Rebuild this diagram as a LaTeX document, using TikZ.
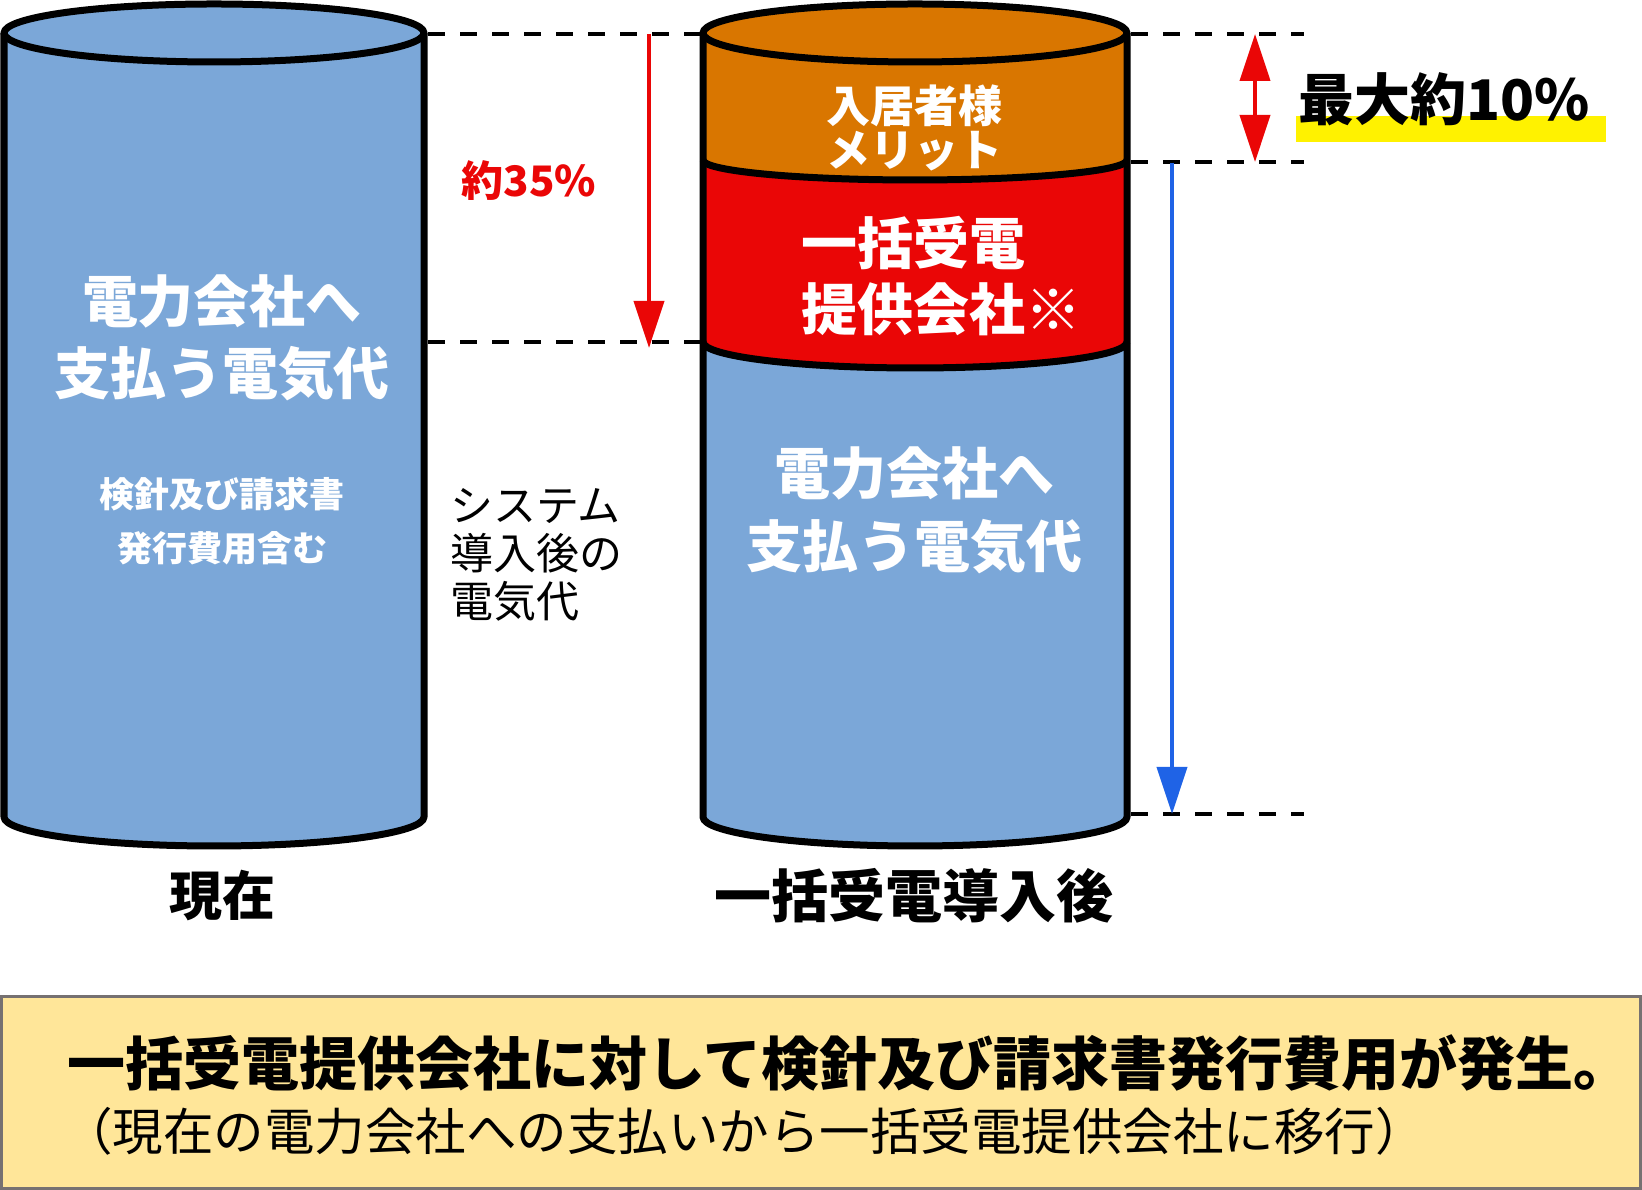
\documentclass[tikz,border=0pt]{standalone}
\usepackage{fontspec}
\newfontfamily\jp{Noto Sans CJK JP}
\usetikzlibrary{arrows.meta}
\definecolor{cylblue}{HTML}{7BA7D8}
\definecolor{cylorange}{HTML}{D97600}
\definecolor{cylred}{HTML}{EA0606}
\definecolor{arrblue}{HTML}{1F63E6}
\definecolor{notebg}{HTML}{FFE699}
\definecolor{noteline}{HTML}{767171}
\newcommand\fs[2]{\fontsize{#1pt}{#2pt}\selectfont}

\begin{document}
\begin{tikzpicture}[x=1pt,y=1pt,
  cyl/.style={line width=7pt,line join=round},
  guide/.style={line width=4pt,dash pattern=on 17pt off 15pt},
  redarr/.style={draw=cylred,line width=4pt,-{Triangle[length=47pt,width=30pt]}},
  dblarr/.style={draw=cylred,line width=4pt,{Triangle[length=47pt,width=30pt]}-{Triangle[length=47pt,width=30pt]}},
  bluearr/.style={draw=arrblue,line width=4pt,-{Triangle[length=47pt,width=30pt]}},
  wlab/.style={text=white,align=center,inner sep=0pt},
  blab/.style={text=black,inner sep=0pt}]
\useasboundingbox (0,0) rectangle (1642,1190);

% current: one cylinder
\fill[cylblue] (4,1157) -- (4,373) arc[start angle=180,end angle=360,x radius=210,y radius=29] -- (424,1157) -- cycle;
\draw[cyl] (4,1157) -- (4,373) arc[start angle=180,end angle=360,x radius=210,y radius=29] -- (424,1157);
\draw[cyl,fill=cylblue] (214,1157) ellipse[x radius=210,y radius=29];

% after: three layers
\fill[cylblue] (703,1157) -- (703,373) arc[start angle=180,end angle=360,x radius=212,y radius=29] -- (1127,1157) -- cycle;
\fill[cylred] (703,1157) -- (703,848) arc[start angle=180,end angle=360,x radius=212,y radius=26] -- (1127,1157) -- cycle;
\fill[cylorange] (703,1157) -- (703,1030) arc[start angle=180,end angle=360,x radius=212,y radius=20] -- (1127,1157) -- cycle;
\draw[cyl] (703,848) arc[start angle=180,end angle=360,x radius=212,y radius=26];
\draw[cyl] (703,1030) arc[start angle=180,end angle=360,x radius=212,y radius=20];
\draw[cyl] (703,1157) -- (703,373) arc[start angle=180,end angle=360,x radius=212,y radius=29] -- (1127,1157);
\draw[cyl,fill=cylorange] (915,1157) ellipse[x radius=212,y radius=29];

% level guides
\foreach \y in {1156,848} \draw[guide] (428,\y) -- (702,\y);
\foreach \y in {1156,1028,376} \draw[guide] (1131,\y) -- (1304,\y);

% arrows
\coordinate (r35top) at (649,1156);
\coordinate (r35bot) at (649,842);
\coordinate (r10top) at (1255,1156);
\coordinate (r10bot) at (1255,1028);
\coordinate (bltop) at (1172,1027);
\coordinate (blbot) at (1172,376);
\draw[redarr] (r35top) -- (r35bot);
\draw[dblarr] (r10top) -- (r10bot);
\draw[bluearr] (bltop) -- (blbot);

% labels
\node[wlab,font=\jp\bfseries\fs{56}{72}] (payL) at (222,852) {電力会社へ\\支払う電気代};
\node[wlab,font=\jp\bfseries\fs{35}{54}] (feeL) at (222,669) {検針及び請求書\\発行費用含む};
\node[wlab,font=\jp\bfseries\fs{44}{44}] (merit) at (914,1062) {入居者様\\メリット};
\node[wlab,align=left,anchor=west,font=\jp\bfseries\fs{56}{66}] (bulk) at (801,914) {一括受電\\提供会社※};
\node[wlab,font=\jp\bfseries\fs{56}{73}] (payR) at (914,680) {電力会社へ\\支払う電気代};
\node[blab,align=left,anchor=west,font=\jp\fs{43}{48}] (sysel) at (450,635) {システム\\導入後の\\電気代};
\node[blab,text=cylred,font=\jp\bfseries\fs{42}{42}] (pct35) at (529,1009) {約35\%};
\fill[yellow] (1296,1048) rectangle (1606,1074);
\node[blab,anchor=west,font=\jp\bfseries\fs{56}{56}] (pct10) at (1298,1091) {最大約10\%};
\node[blab,font=\jp\bfseries\fs{53}{53}] (now) at (222,294) {現在};
\node[blab,font=\jp\bfseries\fs{57}{57}] (later) at (914,294) {一括受電導入後};

% note box
\draw[noteline,line width=3pt,fill=notebg] (1.5,1.5) rectangle (1640.5,193.5);
\node[blab,anchor=west,font=\jp\bfseries\fs{58}{58}] (note1) at (67,127) {一括受電提供会社に対して検針及び請求書発行費用が発生。};
\node[blab,anchor=west,font=\jp\fs{50.5}{50.5}] (note2) at (62,59) {（現在の電力会社への支払いから一括受電提供会社に移行）};
\end{tikzpicture}
\end{document}
